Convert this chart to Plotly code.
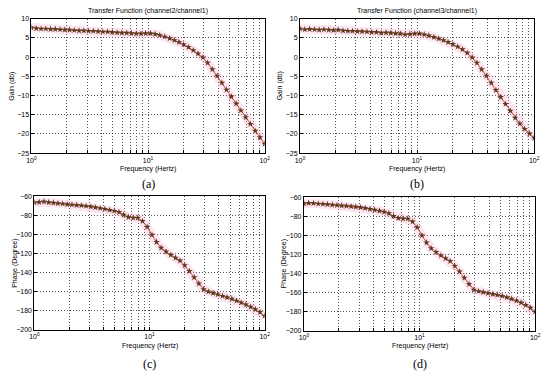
import plotly.graph_objects as go

# Frequencies (Hz), log-spaced samples
freq = [1.00, 1.10, 1.21, 1.33, 1.46, 1.60, 1.76, 1.93, 2.12, 2.33,
        2.56, 2.81, 3.09, 3.39, 3.73, 4.09, 4.50, 4.94, 5.43, 5.96,
        6.55, 7.20, 7.91, 8.69, 9.54, 10.5, 11.5, 12.6, 13.9, 15.3,
        16.8, 18.4, 20.2, 22.2, 24.4, 26.8, 29.5, 32.4, 35.6, 39.1,
        43.0, 47.1, 51.8, 56.9, 62.5, 68.7, 75.4, 82.9, 91.0, 100.0]

gain_a = [7.7, 7.5, 7.4, 7.4, 7.3, 7.3, 7.2, 7.1, 7.1, 7.0,
          6.9, 6.9, 6.8, 6.8, 6.7, 6.6, 6.6, 6.5, 6.4, 6.3,
          6.3, 6.2, 6.1, 6.1, 6.2, 6.2, 6.0, 5.7, 5.3, 4.9,
          4.4, 3.9, 3.3, 2.6, 1.8, 0.9, -0.1, -1.5, -3.2, -4.9,
          -6.7, -8.5, -10.3, -12.1, -13.9, -15.7, -17.4, -19.2, -20.9, -22.6]

gain_b = [7.4, 7.2, 7.3, 7.2, 7.1, 7.2, 7.1, 7.0, 7.1, 6.9,
          6.8, 6.8, 6.7, 6.7, 6.6, 6.5, 6.5, 6.3, 6.4, 6.3,
          6.2, 6.1, 5.9, 6.0, 6.1, 6.1, 5.9, 5.6, 5.2, 4.8,
          4.4, 3.9, 3.4, 2.7, 2.0, 1.1, -0.1, -1.5, -3.2, -4.9,
          -6.7, -8.6, -10.4, -12.2, -14.0, -15.8, -17.3, -18.7, -19.9, -21.0]

phase_c = [-66.5, -66.0, -65.5, -66.3, -66.8, -67.3, -67.8, -68.4, -68.8, -69.2,
           -69.6, -70.1, -70.8, -71.6, -72.5, -73.3, -74.3, -75.4, -76.6, -79.5,
           -81.8, -82.5, -82.6, -86.0, -92.0, -100.5, -108.0, -114.0, -118.0, -121.5,
           -124.5, -127.5, -132.5, -138.5, -145.0, -151.5, -157.5, -160.0, -161.5, -163.0,
           -164.5, -166.0, -167.5, -169.5, -171.5, -173.5, -176.0, -178.5, -181.5, -185.5]

phase_d = [-66.6, -66.0, -66.2, -66.7, -67.0, -67.4, -67.9, -68.3, -68.7, -69.0,
           -69.5, -70.0, -70.6, -71.4, -72.3, -73.2, -74.2, -75.3, -76.8, -79.8,
           -81.9, -82.4, -82.5, -85.5, -91.5, -100.0, -107.5, -113.5, -117.5, -121.0,
           -124.0, -127.0, -132.0, -138.0, -144.5, -151.0, -157.0, -158.5, -159.5, -160.5,
           -161.5, -162.5, -163.5, -165.0, -166.5, -168.5, -170.5, -173.0, -176.0, -180.0]

gain_ticks = [10, 5, 0, -5, -10, -15, -20, -25]
phase_ticks = [-60, -80, -100, -120, -140, -160, -180, -200]
x_grid = [1, 2, 3, 4, 5, 6, 7, 8, 9, 10, 20, 30, 40, 50, 60, 70, 80, 90, 100]
x_text = ["10<sup>0</sup>" if v == 1 else "10<sup>1</sup>" if v == 10
          else "10<sup>2</sup>" if v == 100 else "" for v in x_grid]

W, H = 550, 375
FONT = "Liberation Sans"

panels = [
    (freq, gain_a, (27, 265), (15, 152), [-25, 10], gain_ticks, "Gain (db)",
     "Transfer Function (channel2/channel1)", "(a)", 183),
    (freq, gain_b, (301, 540), (15, 152), [-25, 10], gain_ticks, "Gain (db)",
     "Transfer Function (channel3/channel1)", "(b)", 183),
    (freq, phase_c, (30, 265), (196, 332), [-200, -60], phase_ticks, "Phase (Degree)",
     None, "(c)", 367),
    (freq, phase_d, (305, 541), (197, 333), [-200, -60], phase_ticks, "Phase (Degree)",
     None, "(d)", 367),
]


def ann(text, xp, yp, size=7, family=FONT, angle=0):
    return dict(text=text, x=xp / W, y=1 - yp / H, xref="paper", yref="paper",
                xanchor="center", yanchor="middle", showarrow=False, textangle=angle,
                font=dict(family=family, size=size, color="black"))


fig = go.Figure()
annotations = []
for i, (xs, ys, (x0, x1), (y0, y1), yr, yt, ylab, title, tag, tag_y) in enumerate(panels):
    n = "" if i == 0 else str(i + 1)
    xa, ya = "x" + n, "y" + n
    fig.add_trace(go.Scatter(x=xs, y=ys, xaxis=xa, yaxis=ya, mode="lines",
                             line=dict(color="rgba(255,160,200,0.28)", width=9),
                             hoverinfo="skip", showlegend=False))
    fig.add_trace(go.Scatter(x=xs, y=ys, xaxis=xa, yaxis=ya, mode="lines+markers",
                             line=dict(color="#c8542e", width=1),
                             marker=dict(symbol="star", size=5, color="#5a3a22"),
                             showlegend=False))
    axis_common = dict(showline=True, mirror=True, linecolor="black", linewidth=1,
                       showgrid=True, gridcolor="#555", griddash="1px,2px", gridwidth=1,
                       ticks="inside", ticklen=3, tickcolor="black",
                       tickfont=dict(family=FONT, size=7, color="black"), zeroline=False)
    fig.update_layout(**{
        ("xaxis" + n): dict(type="log", range=[0, 2], tickvals=x_grid, ticktext=x_text,
                            domain=[x0 / W, x1 / W], anchor=ya, **axis_common),
        ("yaxis" + n): dict(range=yr, tickvals=yt, domain=[1 - y1 / H, 1 - y0 / H],
                            anchor=xa, **axis_common),
    })
    cx = (x0 + x1) / 2
    if title:
        annotations.append(ann(title, cx, 7))
    annotations.append(ann("Frequency (Hertz)", cx, y1 + 16))
    annotations.append(ann(ylab, x0 - 20, (y0 + y1) / 2, angle=-90))
    annotations.append(ann(tag, cx, tag_y, size=12, family="Liberation Serif"))

fig.update_layout(width=W, height=H, margin=dict(l=0, r=0, t=0, b=0),
                  paper_bgcolor="white", plot_bgcolor="white",
                  annotations=annotations, showlegend=False)

fig.write_html("out.html", config={"displayModeBar": False},
               post_script="document.body.style.margin='0';document.body.style.overflow='hidden';")
